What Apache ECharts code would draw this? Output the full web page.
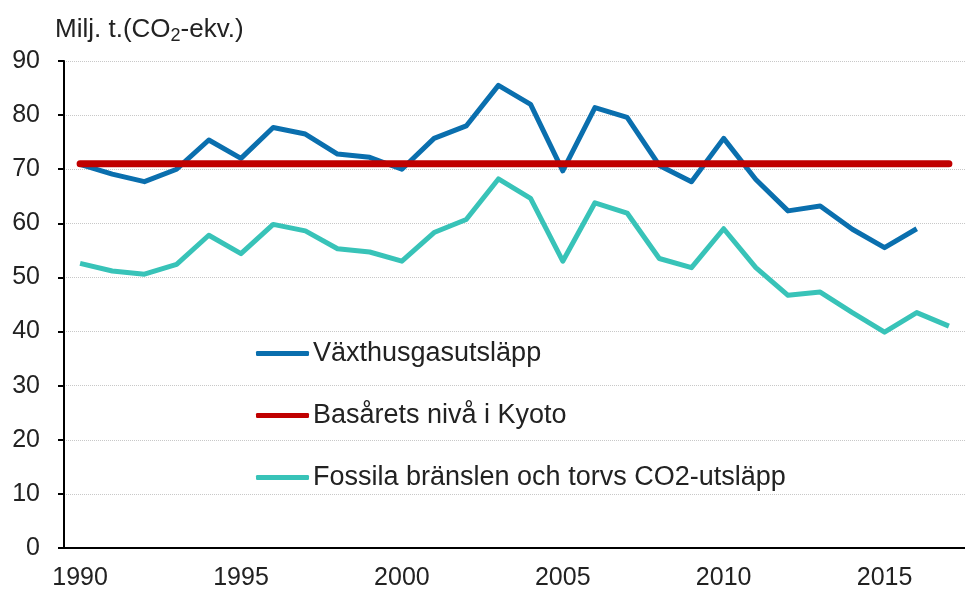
<!DOCTYPE html>
<html lang="sv">
<head>
    <meta charset="UTF-8">
    <script src="https://cdn.jsdelivr.net/npm/echarts@6/dist/echarts.min.js"></script>
    <title>Utsläpp</title>
    <style>
        html, body { margin: 0; padding: 0; background: #fff; }
    </style>
</head>
<body>
    <div id="main" style="width: 965px; height: 591px;"></div>
    <script>
        // data
        var years = [];
        for (var y = 1990; y <= 2017; y++) years.push(String(y));

        var vaxthusgas = [70.9, 69.1, 67.7, 70.0, 75.4, 72.0, 77.7, 76.5, 72.8, 72.2,
                          70.0, 75.7, 78.0, 85.5, 82.0, 69.7, 81.4, 79.6, 70.7, 67.7,
                          75.7, 68.1, 62.3, 63.2, 58.9, 55.5, 59.0, null];
        var kyotoNiva = 71.0;
        var kyoto = years.map(function () { return kyotoNiva; });
        var fossila = [52.6, 51.2, 50.6, 52.4, 57.8, 54.4, 59.8, 58.6, 55.3, 54.7,
                       53.0, 58.3, 60.7, 68.2, 64.6, 53.0, 63.8, 61.9, 53.5, 51.8,
                       59.0, 51.8, 46.7, 47.3, 43.5, 39.9, 43.5, 41.0];

        var font = 'Liberation Sans, Arial, sans-serif';
        var txt = '#222';

        var myChart = echarts.init(document.getElementById('main'));
        var option = {
            animation: false,
            title: {
                text: '{a|Milj. t.(CO}{s|2}{a|-ekv.)}',
                left: 50,
                top: 10,
                textStyle: {
                    fontWeight: 'normal',
                    rich: {
                        a: { fontFamily: font, fontSize: 26, fontWeight: 'normal', color: txt },
                        s: { fontFamily: font, fontSize: 18, fontWeight: 'normal', color: txt, verticalAlign: 'bottom', padding: [12, 0, 0, 0] }
                    }
                }
            },
            legend: {
                orient: 'vertical',
                left: 251,
                top: 335,
                itemGap: 35,
                itemWidth: 53,
                itemHeight: 5,
                icon: 'roundRect',
                textStyle: { fontFamily: font, fontSize: 27, color: txt, padding: [0, 0, 0, -1] },
                data: ['Växthusgasutsläpp', 'Basårets nivå i Kyoto', 'Fossila bränslen och torvs CO2-utsläpp']
            },
            grid: {
                left: 64,
                top: 61,
                width: 909,
                height: 487
            },
            xAxis: {
                type: 'category',
                boundaryGap: true,
                data: years,
                axisLine: { lineStyle: { color: '#000', width: 2 } },
                axisTick: { interval: 0, length: 6, lineStyle: { color: '#000', width: 2 } },
                axisLabel: { interval: 4, margin: 18, fontFamily: font, fontSize: 25, color: txt }
            },
            yAxis: {
                type: 'value',
                min: 0,
                max: 90,
                interval: 10,
                axisLine: { show: true, lineStyle: { color: '#000', width: 2 } },
                axisTick: { show: true, length: 6, lineStyle: { color: '#000', width: 2 } },
                axisLabel: { margin: 24, fontFamily: font, fontSize: 25, color: txt },
                splitLine: { lineStyle: { color: '#c8c8c8', type: 'dotted', width: 1 } }
            },
            series: [
                {
                    name: 'Växthusgasutsläpp',
                    type: 'line',
                    data: vaxthusgas,
                    symbol: 'none',
                    z: 3,
                    color: '#0a6fae',
                    lineStyle: { width: 5, color: '#0a6fae', join: 'round' }
                },
                {
                    name: 'Basårets nivå i Kyoto',
                    type: 'line',
                    data: kyoto,
                    symbol: 'none',
                    z: 4,
                    color: '#c00000',
                    lineStyle: { width: 7, color: '#c00000', cap: 'round' }
                },
                {
                    name: 'Fossila bränslen och torvs CO2-utsläpp',
                    type: 'line',
                    data: fossila,
                    symbol: 'none',
                    z: 2,
                    color: '#38c3b8',
                    lineStyle: { width: 5, color: '#38c3b8', join: 'round' }
                }
            ]
        };
        myChart.setOption(option);
    </script>
</body>
</html>
